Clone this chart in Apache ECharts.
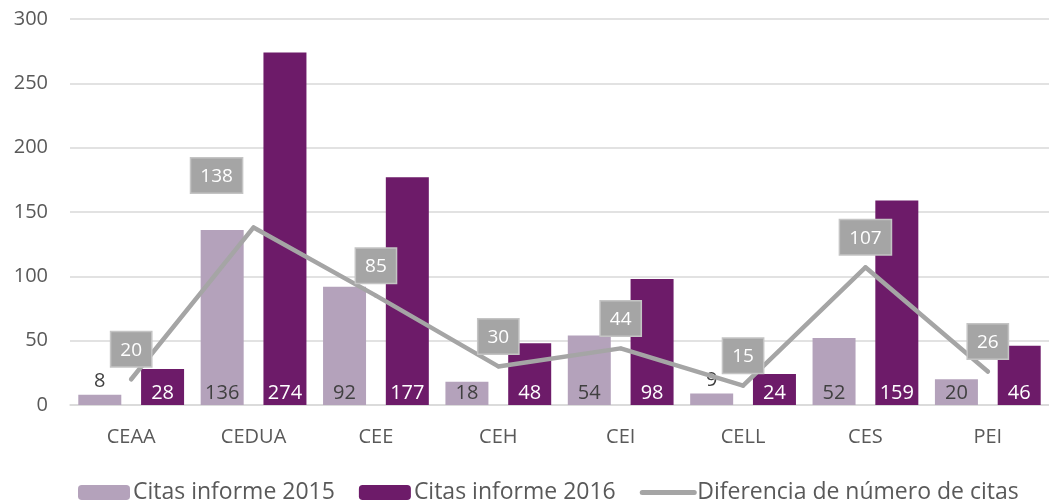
<!DOCTYPE html>
<html>
<head>
<meta charset="utf-8">
<script src="https://cdn.jsdelivr.net/npm/echarts@6/dist/echarts.min.js"></script>
<style>html,body{margin:0;padding:0;background:#fff}#c{width:1049px;height:504px}</style>
</head>
<body>
<div id="c"></div>
<script>
const categories = ['CEAA', 'CEDUA', 'CEE', 'CEH', 'CEI', 'CELL', 'CES', 'PEI'];
const citas2015 = [8, 136, 92, 18, 54, 9, 52, 20];
const citas2016 = [28, 274, 177, 48, 98, 24, 159, 46];
const diferencia = [20, 138, 85, 30, 44, 15, 107, 26];
const yTicks = [0, 50, 100, 150, 200, 250, 300];
const seriesNames = ['Citas informe 2015', 'Citas informe 2016', 'Diferencia de número de citas'];

const FONT = '"Open Sans", sans-serif';
const C2015 = '#b4a2bb';
const C2016 = '#6d1b69';
const CLINE = '#a5a5a5';

const chart = echarts.init(document.getElementById('c'));

const bar2015Data = citas2015.map(v => v < 10
  ? { value: v, label: { position: 'top', distance: 3 } }
  : v);
const lineData = diferencia.map((v, i) => i === 1
  ? { value: v, label: { offset: [-37, -22] } }
  : v);

chart.setOption({
  animation: false,
  textStyle: { fontFamily: FONT },
  grid: { left: 70, top: 19, width: 988, height: 386 },
  legend: {
    left: 73, top: 476,
    itemWidth: 52, itemHeight: 15, itemGap: 24,
    textStyle: { fontFamily: FONT, fontSize: 23, color: '#595959', padding: [0, 0, 0, -2] },
    data: [
      { name: seriesNames[0] },
      { name: seriesNames[1] },
      { name: seriesNames[2], itemStyle: { opacity: 0 }, lineStyle: { width: 5, cap: 'round', color: CLINE } }
    ]
  },
  xAxis: {
    type: 'category',
    data: categories,
    axisLine: { lineStyle: { color: '#d9d9d9', width: 1.5 } },
    axisTick: { show: false },
    axisLabel: { fontFamily: FONT, fontSize: 20, color: '#595959', margin: 22 }
  },
  yAxis: {
    type: 'value',
    min: yTicks[0], max: yTicks[yTicks.length - 1], interval: 50,
    axisLine: { show: false },
    axisTick: { show: false },
    splitLine: { lineStyle: { color: '#d9d9d9', width: 1.5 } },
    axisLabel: { fontFamily: FONT, fontSize: 20, color: '#595959', margin: 22 }
  },
  series: [
    {
      name: seriesNames[0], type: 'bar', data: bar2015Data,
      barWidth: 43, barGap: '46%',
      itemStyle: { color: C2015 },
      label: { show: true, position: 'insideBottom', distance: 2, fontFamily: FONT, fontSize: 20, color: '#404040' }
    },
    {
      name: seriesNames[1], type: 'bar', data: citas2016,
      barWidth: 43,
      itemStyle: { color: C2016 },
      label: { show: true, position: 'insideBottom', distance: 2, fontFamily: FONT, fontSize: 20, color: '#ffffff' }
    },
    {
      name: seriesNames[2], type: 'line', data: lineData,
      symbol: 'circle', symbolSize: 4,
      itemStyle: { color: CLINE },
      lineStyle: { color: CLINE, width: 4.5, cap: 'round', join: 'round' },
      label: {
        show: true, position: 'top', distance: 11,
        fontFamily: FONT, fontSize: 19, color: '#ffffff',
        backgroundColor: CLINE, borderColor: '#c4c4c4', borderWidth: 1.5,
        padding: [8, 9, 6, 9], lineHeight: 20
      },
      z: 5
    }
  ]
});
</script>
</body>
</html>
